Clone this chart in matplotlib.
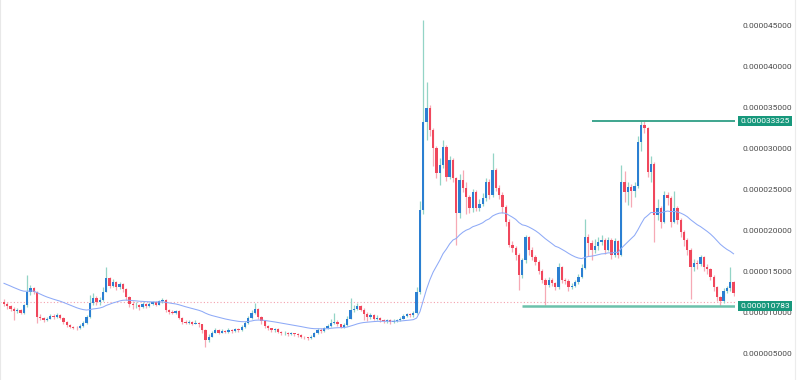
import numpy as np
import matplotlib
matplotlib.use("Agg")
import matplotlib.pyplot as plt
import matplotlib.transforms as mtransforms

# prices in units of 1e-6
UNIT = 1e-6
first_open = 11.2

closes = [
    11.0, 10.7, 10.4, 10.1, 10.3, 9.9, 10.8, 12.4, 12.9, 12.5,
    9.4, 9.3, 9.0, 9.2, 9.5, 9.4, 9.6, 9.3, 8.8, 8.4,
    8.2, 8.1, 8.0, 8.3, 8.7, 9.4, 11.1, 11.7, 11.2, 11.5,
    12.5, 14.1, 13.2, 13.6, 13.0, 13.4, 12.8, 11.8, 11.0, 10.8,
    10.9, 10.6, 11.0, 10.7, 11.0, 11.2, 10.9, 11.3, 11.5, 10.2,
    10.0, 9.9, 10.1, 9.3, 8.8, 8.7, 8.8, 8.6, 8.7, 8.5,
    7.8, 6.6, 7.0, 7.5, 7.8, 7.5, 7.7, 7.6, 7.8, 7.7,
    7.9, 7.8, 8.2, 8.7, 9.3, 9.9, 10.4, 9.4, 8.9, 8.3,
    8.0, 7.8, 7.9, 7.6, 7.4, 7.5, 7.3, 7.4, 7.3, 7.2,
    7.0, 6.9, 6.8, 7.0, 7.4, 7.8, 7.7, 8.0, 8.3, 8.7,
    8.8, 8.5, 8.2, 8.4, 9.2, 10.2, 10.4, 10.7, 10.3, 9.8,
    9.4, 9.6, 9.2, 9.3, 9.0, 8.9, 9.0, 8.8, 8.9, 9.0,
    9.2, 9.5, 9.7, 9.6, 9.9, 12.4, 22.4, 33.2, 34.9, 32.2,
    30.0, 27.0, 27.9, 30.1, 26.5, 28.5, 26.3, 22.1, 26.1, 25.1,
    24.0, 22.7, 24.6, 22.7, 23.2, 23.9, 25.9, 24.3, 27.3, 25.1,
    24.3, 22.8, 21.0, 18.2, 17.8, 17.0, 14.5, 16.3, 19.1, 17.6,
    16.7, 16.1, 15.0, 13.9, 13.3, 13.9, 13.5, 13.0, 15.5, 13.9,
    13.8, 13.0, 13.2, 13.6, 14.3, 15.4, 19.1, 18.4, 17.6, 18.0,
    18.5, 18.8, 17.6, 18.8, 16.9, 18.6, 17.0, 25.9, 24.6, 25.3,
    24.8, 25.4, 30.7, 32.8, 32.4, 27.1, 28.0, 21.8, 22.7, 21.0,
    24.3, 23.9, 21.0, 22.7, 21.2, 19.8, 18.8, 17.6, 15.5, 16.0,
    15.8, 16.7, 15.5, 15.2, 14.3, 13.0, 11.8, 11.3, 12.6, 12.9,
    13.7, 12.3,
]

highs = [
    11.6, 11.2, 10.9, 10.6, 10.5, 10.4, 11.0, 14.5, 13.3, 13.1,
    12.6, 9.7, 9.4, 9.4, 9.8, 9.7, 9.9, 9.7, 9.4, 8.9,
    8.5, 8.3, 8.3, 8.5, 8.9, 9.6, 12.1, 12.3, 11.9, 11.8,
    13.0, 15.5, 14.3, 14.0, 13.8, 13.7, 13.5, 12.9, 11.9, 11.3,
    11.2, 11.0, 11.2, 11.1, 11.2, 11.4, 11.3, 11.5, 11.7, 11.6,
    10.4, 10.2, 10.3, 10.2, 9.4, 9.0, 9.0, 8.9, 9.0, 8.8,
    8.6, 7.9, 7.3, 7.7, 8.1, 7.9, 7.9, 7.8, 8.0, 7.9,
    8.1, 8.1, 8.4, 8.9, 9.5, 10.3, 11.1, 10.5, 9.5, 9.0,
    8.4, 8.1, 8.1, 8.0, 7.7, 7.7, 7.6, 7.6, 7.5, 7.4,
    7.3, 7.1, 7.0, 7.2, 7.6, 8.0, 8.0, 8.2, 8.6, 9.2,
    9.9, 9.0, 8.6, 8.7, 9.5, 11.7, 10.9, 11.1, 10.9, 10.5,
    10.0, 9.9, 9.8, 9.6, 9.4, 9.2, 9.2, 9.1, 9.1, 9.2,
    9.4, 9.7, 9.9, 9.9, 10.1, 13.0, 23.5, 45.6, 38.0, 35.2,
    32.5, 30.3, 28.8, 31.0, 30.4, 29.0, 28.8, 26.5, 26.8, 27.3,
    25.8, 24.3, 25.0, 24.9, 23.8, 24.5, 26.3, 26.2, 29.4, 27.6,
    25.5, 24.6, 23.0, 21.3, 18.6, 18.0, 17.2, 16.6, 19.4, 19.3,
    17.9, 17.0, 16.3, 15.2, 14.2, 14.3, 14.1, 13.7, 16.0, 15.6,
    14.2, 14.0, 13.5, 13.9, 14.6, 15.8, 21.4, 19.5, 18.8, 18.9,
    19.2, 19.4, 19.0, 19.2, 19.0, 19.0, 18.8, 27.9, 27.2, 25.8,
    25.6, 25.9, 31.5, 33.3, 33.325, 32.6, 29.0, 28.3, 23.8, 22.9,
    24.8, 24.6, 24.1, 24.8, 22.9, 21.5, 20.0, 19.0, 17.8, 16.5,
    16.3, 17.0, 16.8, 15.8, 15.4, 14.5, 13.2, 12.0, 12.9, 13.2,
    15.5, 13.8,
]

lows = [
    10.7, 10.4, 10.1, 9.0, 9.9, 9.7, 9.8, 10.6, 12.1, 12.2,
    8.7, 9.0, 8.8, 8.9, 9.1, 9.2, 9.3, 9.1, 8.6, 8.2,
    8.0, 7.9, 7.8, 7.9, 8.2, 8.6, 9.3, 10.9, 10.8, 10.9,
    11.3, 12.4, 12.9, 13.0, 12.7, 12.8, 12.5, 11.5, 10.6, 10.4,
    10.5, 10.3, 10.5, 10.5, 10.6, 10.9, 10.7, 10.8, 11.1, 10.0,
    9.8, 9.7, 9.8, 9.1, 8.6, 8.5, 8.5, 8.4, 8.5, 8.2,
    7.5, 5.7, 6.4, 6.9, 7.4, 7.3, 7.4, 7.4, 7.5, 7.5,
    7.6, 7.6, 7.7, 8.1, 8.6, 9.2, 9.8, 9.2, 8.6, 8.0,
    7.8, 7.6, 7.6, 7.4, 7.2, 7.2, 7.1, 7.2, 7.1, 7.0,
    6.8, 6.7, 6.6, 6.7, 6.9, 7.3, 7.5, 7.6, 7.9, 8.2,
    8.5, 8.3, 8.0, 8.1, 8.3, 9.1, 10.0, 10.2, 10.1, 9.0,
    8.9, 9.2, 9.0, 9.0, 8.8, 8.7, 8.7, 8.6, 8.7, 8.8,
    8.9, 9.1, 9.4, 9.4, 9.4, 9.8, 12.2, 22.0, 31.0, 31.5,
    27.8, 26.4, 25.5, 27.6, 26.0, 26.2, 25.8, 18.2, 21.5, 24.6,
    22.0, 22.1, 22.2, 22.3, 22.3, 22.9, 23.5, 23.8, 24.0, 24.7,
    23.8, 22.1, 20.5, 17.9, 17.3, 16.4, 12.7, 14.2, 16.0, 17.0,
    16.3, 15.7, 14.6, 13.5, 10.85, 13.1, 13.2, 12.7, 12.8, 13.5,
    13.4, 12.6, 12.8, 13.0, 13.4, 14.1, 15.2, 16.8, 16.4, 17.2,
    17.6, 18.2, 17.1, 17.4, 16.5, 16.7, 16.6, 16.8, 23.4, 23.0,
    22.8, 24.0, 25.1, 29.6, 31.8, 26.5, 25.8, 18.5, 21.2, 20.2,
    20.8, 23.0, 20.4, 20.8, 20.7, 19.2, 18.1, 17.0, 11.6, 15.0,
    15.2, 15.6, 15.0, 14.6, 13.9, 12.6, 11.4, 10.783, 11.1, 12.3,
    12.6, 12.0,
]

ma_start = 13.5
ma_span = 33

resistance = 33.325
support = 10.783
last_line = 11.2
res_from, sup_from = 178, 157

yticks = [5, 10, 15, 20, 25, 30, 35, 40, 45]

up_body, down_body = "#2b7fd2", "#f0475c"
up_wick, down_wick = "#93d4c6", "#f6a9b5"
teal = "#17987c"

n = len(closes)
x = np.arange(n)
opens = np.array([first_open] + closes[:-1])
c = np.array(closes)
h = np.maximum(np.array(highs), np.maximum(opens, c))
l = np.minimum(np.array(lows), np.minimum(opens, c))
up = c >= opens

# exponential moving average
alpha = 2 / (ma_span + 1)
ma = [ma_start]
for v in closes[1:]:
    ma.append(ma[-1] + alpha * (v - ma[-1]))

fig = plt.figure(figsize=(8, 3.8), dpi=100)
ax = fig.add_axes([0, 0, 0.919, 1])

ax.axhline(last_line, color="#f4a0ac", lw=0.8, ls=(0, (1, 2)), zorder=1)

ax.vlines(x[up], l[up], h[up], color=up_wick, lw=0.9, zorder=2)
ax.vlines(x[~up], l[~up], h[~up], color=down_wick, lw=0.9, zorder=2)
body = np.maximum(np.abs(c - opens), 0.08)
ax.bar(x[up], body[up], bottom=opens[up], width=0.7, color=up_body, zorder=3)
ax.bar(x[~up], body[~up], bottom=c[~up], width=0.7, color=down_body, zorder=3)

ax.plot(x, ma, color="#8eaaf7", lw=0.75, zorder=4)

xmax = 221.5
ax.hlines(resistance, res_from, xmax, color="#2f9e86", lw=1.3, zorder=5)
ax.hlines(support, sup_from, xmax, color="#6cc1ab", lw=1.8, zorder=5)

ax.set_xlim(-1.21, xmax)
ax.set_ylim(1.71, 48.05)

ax.yaxis.tick_right()
ax.set_yticks(yticks)
ax.set_yticklabels([f"{v * UNIT:.9f}" for v in yticks], family="Roboto",
                   fontsize=6, color="#4a4a4a")
ax.tick_params(axis="y", length=0, pad=5)
ax.set_xticks([])
for s in ["top", "right", "bottom"]:
    ax.spines[s].set_visible(False)
ax.spines["left"].set_color("#e8e8e8")

trans = mtransforms.blended_transform_factory(ax.transAxes, ax.transData)
for val in [resistance, support]:
    ax.text(1.007, val, f"{val * UNIT:.9f}", transform=trans, ha="left",
            va="center", family="Roboto", fontsize=6, color="white",
            bbox=dict(boxstyle="square,pad=0.25", fc=teal, ec="none"),
            clip_on=False, zorder=6)

# faint right border of the price scale
fig.add_artist(plt.Line2D([0.994, 0.994], [0, 1], color="#ececec", lw=0.8))

fig.savefig("out.png", dpi=100, facecolor="white")
